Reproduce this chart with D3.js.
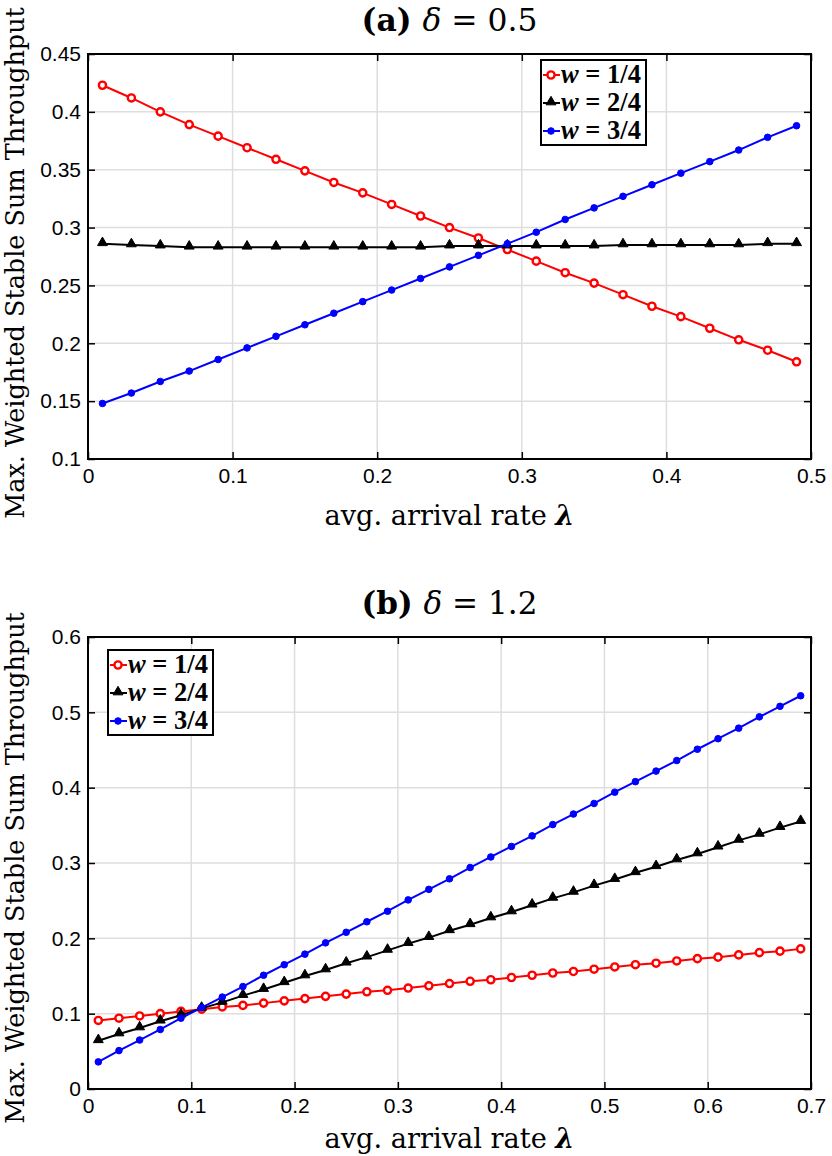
<!DOCTYPE html>
<html><head><meta charset="utf-8">
<script src="https://cdn.jsdelivr.net/npm/d3@7"></script>
<style>body{margin:0;background:#fff}</style>
</head><body><svg id="c" width="832" height="1156"></svg>
<script>
const xA = [0.01,0.03,0.05,0.07,0.09,0.11,0.13,0.15,0.17,0.19,0.21,0.23,0.25,0.27,0.29,0.31,0.33,0.35,0.37,0.39,0.41,0.43,0.45,0.47,0.49];
const redA = [0.423,0.412,0.400,0.389,0.379,0.369,0.359,0.349,0.339,0.330,0.320,0.310,0.300,0.291,0.281,0.271,0.261,0.252,0.242,0.232,0.223,0.213,0.203,0.194,0.184];
const blackA = [0.286,0.285,0.284,0.283,0.283,0.283,0.283,0.283,0.283,0.283,0.283,0.283,0.284,0.284,0.284,0.284,0.284,0.284,0.285,0.285,0.285,0.285,0.285,0.286,0.286];
const blueA = [0.148,0.157,0.167,0.176,0.186,0.196,0.206,0.216,0.226,0.236,0.246,0.256,0.266,0.276,0.286,0.296,0.307,0.317,0.327,0.337,0.347,0.357,0.367,0.378,0.388];

const xB = [0.01,0.03,0.05,0.07,0.09,0.11,0.13,0.15,0.17,0.19,0.21,0.23,0.25,0.27,0.29,0.31,0.33,0.35,0.37,0.39,0.41,0.43,0.45,0.47,0.49,0.51,0.53,0.55,0.57,0.59,0.61,0.63,0.65,0.67,0.69];
const redB = [0.091,0.094,0.097,0.100,0.103,0.106,0.109,0.111,0.114,0.117,0.120,0.123,0.126,0.129,0.131,0.134,0.137,0.140,0.143,0.145,0.148,0.151,0.154,0.156,0.159,0.162,0.165,0.167,0.170,0.173,0.175,0.178,0.181,0.183,0.186];
const blackB = [0.064,0.073,0.081,0.090,0.098,0.107,0.115,0.124,0.132,0.141,0.150,0.158,0.167,0.175,0.184,0.193,0.201,0.210,0.218,0.227,0.235,0.244,0.253,0.261,0.270,0.278,0.287,0.295,0.304,0.312,0.321,0.330,0.338,0.347,0.355];
const blueB = [0.036,0.051,0.065,0.079,0.094,0.108,0.122,0.136,0.151,0.165,0.179,0.194,0.208,0.222,0.236,0.251,0.265,0.279,0.294,0.308,0.322,0.336,0.351,0.365,0.379,0.394,0.408,0.422,0.436,0.451,0.465,0.479,0.494,0.508,0.522];

const xTicksA = [0,0.1,0.2,0.3,0.4,0.5];
const yTicksA = [0.1,0.15,0.2,0.25,0.3,0.35,0.4,0.45];
const xTicksB = [0,0.1,0.2,0.3,0.4,0.5,0.6,0.7];
const yTicksB = [0,0.1,0.2,0.3,0.4,0.5,0.6];
const legendLabels = ["1/4","2/4","3/4"];
const colors = ["#ff0000","#000000","#0000ff"];
const markers = ["circle","triangle","dot"];

const SERIF = "'DejaVu Serif','Liberation Serif',serif";
const svg = d3.select("#c");

function fit(sel, target){
  const fs = +sel.attr("font-size");
  const w = sel.node().getComputedTextLength();
  if (w > 0) sel.attr("font-size", fs * target / w);
}

function panel(o){
  const g = svg.append("g");
  const x = d3.scaleLinear().domain(o.xd).range([o.l,o.r]);
  const y = d3.scaleLinear().domain(o.yd).range([o.b,o.t]);
  g.append("g").selectAll("line").data(o.xt.slice(1,-1)).join("line")
    .attr("x1",d=>x(d)).attr("x2",d=>x(d)).attr("y1",o.t).attr("y2",o.b)
    .attr("stroke","#dedede").attr("stroke-width",1.5);
  g.append("g").selectAll("line").data(o.yt.slice(1,-1)).join("line")
    .attr("y1",d=>y(d)).attr("y2",d=>y(d)).attr("x1",o.l).attr("x2",o.r)
    .attr("stroke","#dedede").attr("stroke-width",1.5);
  const fmt = d=>String(+d.toFixed(2));
  const ax = g.append("g").attr("transform",`translate(0,${o.b})`)
    .call(d3.axisBottom(x).tickValues(o.xt).tickFormat(fmt).tickSizeInner(-7).tickSizeOuter(0).tickPadding(13));
  const ay = g.append("g").attr("transform",`translate(${o.l},0)`)
    .call(d3.axisLeft(y).tickValues(o.yt).tickFormat(fmt).tickSizeInner(-7).tickSizeOuter(0).tickPadding(13));
  const axT = g.append("g").attr("transform",`translate(0,${o.t})`)
    .call(d3.axisTop(x).tickValues(o.xt).tickFormat("").tickSizeInner(-7).tickSizeOuter(0));
  const ayR = g.append("g").attr("transform",`translate(${o.r},0)`)
    .call(d3.axisRight(y).tickValues(o.yt).tickFormat("").tickSizeInner(-7).tickSizeOuter(0));
  [ax,ay,axT,ayR].forEach(a=>{
    a.selectAll("path").remove();
    a.selectAll("line").attr("stroke","#000").attr("stroke-width",1.5);
    a.selectAll("text").attr("font-family","'Liberation Sans',Arial,sans-serif").attr("font-size",21).attr("fill","#000");
  });
  ay.selectAll("text").attr("dx",6);
  ax.selectAll("text").attr("dy","0.5em");
  g.append("rect").attr("x",o.l).attr("y",o.t).attr("width",o.r-o.l).attr("height",o.b-o.t)
    .attr("fill","none").attr("stroke","#000").attr("stroke-width",2);
  o.series.forEach((s,i)=>{
    const c = colors[i];
    const pts = o.xs.map((xv,j)=>[xv,s[j]]);
    g.append("path").datum(pts).attr("fill","none").attr("stroke",c).attr("stroke-width",2)
      .attr("d",d3.line().x(d=>x(d[0])).y(d=>y(d[1])));
    drawMarkers(g,pts.map(p=>[x(p[0]),y(p[1])]),i);
  });
  const tt = g.append("text").attr("x",(o.l+o.r)/2).attr("y",o.titleY).attr("text-anchor","middle")
    .attr("font-family",SERIF).attr("font-size",26);
  tt.append("tspan").attr("font-weight","bold").text(o.titleTag+" ");
  tt.append("tspan").attr("font-style","italic").text("δ");
  tt.append("tspan").text(" = "+o.titleVal);
  fit(tt,176);
  const xl = g.append("text").attr("x",(o.l+o.r)/2).attr("y",o.xlabY).attr("text-anchor","middle")
    .attr("font-family",SERIF).attr("font-size",22);
  xl.append("tspan").text("avg. arrival rate ");
  xl.append("tspan").attr("font-weight","bold").attr("font-style","italic").text("λ");
  fit(xl,250);
  const yl = g.append("text").attr("transform",`translate(${o.ylabX},${o.ylabC}) rotate(-90)`).attr("text-anchor","middle")
    .attr("font-family",SERIF).attr("font-size",22)
    .text("Max. Weighted Stable Sum Throughput");
  fit(yl,512);
  const lg = g.append("g").attr("transform",`translate(${o.lx},${o.ly})`);
  lg.append("rect").attr("width",105).attr("height",85).attr("fill","#fff").attr("stroke","#000").attr("stroke-width",2);
  legendLabels.forEach((lab,i)=>{
    const yy = 15+i*28;
    lg.append("line").attr("x1",2).attr("x2",19).attr("y1",yy).attr("y2",yy).attr("stroke",colors[i]).attr("stroke-width",2);
    drawMarkers(lg,[[10,yy]],i);
    const t = lg.append("text").attr("x",20).attr("y",yy+8).attr("font-family","'Liberation Serif','Times New Roman',serif")
      .attr("font-size",24).attr("font-weight","bold");
    t.append("tspan").attr("font-style","italic").text("w");
    t.append("tspan").text(" = "+lab);
    fit(t,80);
  });
}

function drawMarkers(g,pts,i){
  const c = colors[i];
  if(markers[i]==="circle"){
    g.append("g").selectAll("circle").data(pts).join("circle")
      .attr("cx",d=>d[0]).attr("cy",d=>d[1]).attr("r",3.6)
      .attr("fill","#fff").attr("stroke",c).attr("stroke-width",2.4);
  } else if(markers[i]==="triangle"){
    const sym = d3.symbol().type(d3.symbolTriangle).size(42);
    g.append("g").selectAll("path").data(pts).join("path")
      .attr("transform",d=>`translate(${d[0]},${d[1]-1})`).attr("d",sym).attr("fill",c).attr("stroke",c).attr("stroke-width",1);
  } else {
    g.append("g").selectAll("circle").data(pts).join("circle")
      .attr("cx",d=>d[0]).attr("cy",d=>d[1]).attr("r",3.3).attr("fill",c).attr("stroke",c).attr("stroke-width",1);
  }
}

panel({xd:[0,0.5],yd:[0.1,0.45],l:88,r:811,t:54,b:459,xt:xTicksA,yt:yTicksA,xs:xA,series:[redA,blackA,blueA],
  titleTag:"(a)",titleVal:"0.5",titleY:31,xlabY:525,ylabX:24,ylabC:263,lx:541,ly:60});
panel({xd:[0,0.7],yd:[0,0.6],l:88,r:811,t:637,b:1089,xt:xTicksB,yt:yTicksB,xs:xB,series:[redB,blackB,blueB],
  titleTag:"(b)",titleVal:"1.2",titleY:614,xlabY:1148,ylabX:24,ylabC:868,lx:108,ly:650});
</script></body></html>
